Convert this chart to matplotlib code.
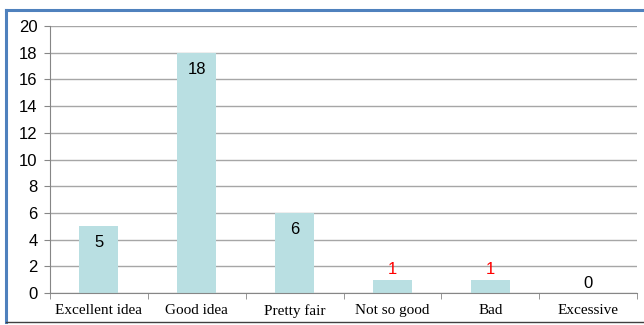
import matplotlib.pyplot as plt
from matplotlib.lines import Line2D

categories = ["Excellent idea", "Good idea", "Pretty fair", "Not so good", "Bad", "Excessive"]
counts = [5, 18, 6, 1, 1, 0]
label_colors = ["black", "black", "black", "red", "red", "black"]
label_inside = [True, True, True, False, False, False]

fig = plt.figure(figsize=(6.44, 3.25), dpi=100)
ax = fig.add_axes([50 / 644, (325 - 293) / 325, (637 - 50) / 644, (293 - 26) / 325])

x = list(range(len(categories)))
ax.bar(x, counts, width=0.4, color="#b9dfe2", zorder=2)

ax.set_xlim(-0.5, len(categories) - 0.5)
ax.set_ylim(0, 20)
ax.set_yticks(range(0, 21, 2))
ax.yaxis.grid(True, color="#a6a6a6", linewidth=1.0, zorder=0)
ax.set_axisbelow(True)

for s in ["top", "right"]:
    ax.spines[s].set_visible(False)
ax.spines["left"].set_color("#868686")
ax.spines["bottom"].set_color("#868686")

# category labels between boundary ticks
ax.set_xticks(x)
ax.set_xticklabels(categories, family="Liberation Serif", fontsize=11)
ax.tick_params(axis="x", length=0, pad=8)
ax.set_xticks([i - 0.5 for i in range(len(categories) + 1)], minor=True)
ax.tick_params(axis="x", which="minor", length=4, color="#868686", direction="out")
ax.tick_params(axis="y", length=4, color="#868686", pad=5)
for lab in ax.get_yticklabels():
    lab.set_family("Liberation Sans")
    lab.set_fontsize(12)

for xi, v, c, inside in zip(x, counts, label_colors, label_inside):
    dy = -12 if inside else 7
    ax.annotate(str(v), (xi, v), xytext=(0, dy), textcoords="offset points",
                ha="center", va="center", color=c, family="Liberation Sans",
                fontsize=12)

# chart frame
fig.add_artist(Line2D([6 / 644, 6 / 644], [1 - 10 / 325, 1 - 322 / 325], color="#4f81bd", linewidth=2.2))
fig.add_artist(Line2D([6 / 644, 1], [1 - 10 / 325, 1 - 10 / 325], color="#4f81bd", linewidth=2.2))
fig.add_artist(Line2D([6 / 644, 1], [1 - 322 / 325, 1 - 322 / 325], color="#404040", linewidth=1.0))

fig.savefig("out.png", dpi=100)
